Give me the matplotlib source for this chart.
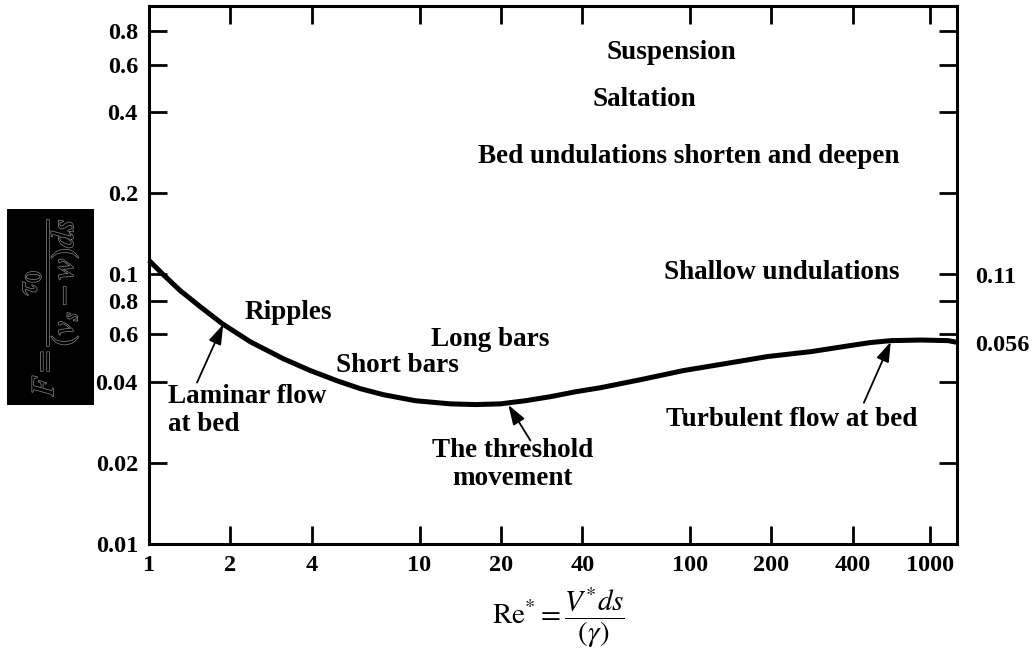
"""Shields-type diagram: bed forms against particle Reynolds number."""

import matplotlib

matplotlib.use("Agg")
import matplotlib.pyplot as plt
import matplotlib.patheffects as pe
from matplotlib.patches import Rectangle
from matplotlib.ticker import NullLocator

# threshold curve read along Re*
re_star = [1.0, 1.127, 1.302, 1.544, 1.863, 2.365, 3.133, 3.944, 4.963,
           6.036, 7.345, 9.649, 13.0, 16.09, 19.91, 24.64, 30.49, 37.73,
           46.68, 65.66, 94.7, 135.5, 193.8, 279.5, 393.0, 466.0, 552.7,
           713.6, 898.3, 970]
shields = [0.1127, 0.1, 0.0872, 0.0760, 0.0657, 0.0563, 0.0487, 0.0440,
           0.0403, 0.0377, 0.0358, 0.0340, 0.0331, 0.0329, 0.0331, 0.0340,
           0.0352, 0.0367, 0.0380, 0.0407, 0.0440, 0.0467, 0.0496, 0.0517,
           0.0545, 0.0559, 0.0568, 0.0571, 0.0568, 0.056]

x_ticks = [1, 2, 4, 10, 20, 40, 100, 200, 400, 771]
x_ticklabels = ["1", "2", "4", "10", "20", "40", "100", "200", "400", "1000"]
y_ticks = [0.01, 0.02, 0.04, 0.06, 0.08, 0.1, 0.2, 0.4, 0.6, 0.8]
y_ticklabels = ["0.01", "0.02", "0.04", "0.6", "0.8", "0.1", "0.2", "0.4", "0.6", "0.8"]

# regime names: (text, x, y, horizontal alignment)
regimes = [
    ("Suspension", 85.5, 0.668, "center"),
    ("Saltation", 67.9, 0.444, "center"),
    ("Bed undulations shorten and deepen", 98.8, 0.2747, "center"),
    ("Shallow undulations", 218, 0.1017, "center"),
    ("Ripples", 3.27, 0.0722, "center"),
    ("Short bars", 8.28, 0.0459, "center"),
    ("Long bars", 18.3, 0.0573, "center"),
]

# arrowed notes: (text, text x, text y, alignment, tail, head)
notes = [
    ("Laminar flow\nat bed", 1.176, 0.0312, "left", (1.505, 0.0397), (1.88, 0.0652)),
    ("The threshold\nmovement", 22.0, 0.0197, "center", (25.7, 0.0242), (21.3, 0.0328)),
    ("Turbulent flow at bed", 238, 0.0289, "center", (439, 0.0334), (552, 0.0562)),
]

right_labels = [("0.11", 0.1), ("0.056", shields[-1])]

plt.rcParams["font.family"] = ["Liberation Serif", "DejaVu Serif"]
plt.rcParams["mathtext.fontset"] = "stix"

W, H = 1036, 658
fig = plt.figure(figsize=(W / 100, H / 100), dpi=100)
ax = fig.add_axes([149 / W, 1 - 544 / H, (957 - 149) / W, (544 - 6) / H])

ax.plot(re_star, shields, color="black", lw=3.6, solid_joinstyle="round",
        solid_capstyle="butt", clip_on=False)

ax.set_xscale("log")
ax.set_yscale("log")
ax.set_xlim(1, 970)
ax.set_ylim(0.01, 0.99)

ax.set_xticks(x_ticks)
ax.set_xticklabels(x_ticklabels)
ax.set_yticks(y_ticks)
ax.set_yticklabels(y_ticklabels)
ax.xaxis.set_minor_locator(NullLocator())
ax.yaxis.set_minor_locator(NullLocator())
ax.tick_params(which="major", direction="in", length=13, width=2,
               labelsize=17.5, top=True, right=True)
ax.tick_params(axis="x", pad=8)
ax.tick_params(axis="y", pad=8)
for lab in ax.get_xticklabels() + ax.get_yticklabels():
    lab.set_fontweight("bold")
for sp in ax.spines.values():
    sp.set_linewidth(2.2)

for text, x, y, ha in regimes:
    ax.text(x, y, text, ha=ha, va="center", fontsize=19.5, fontweight="bold")

for text, x, y, ha, tail, head in notes:
    ax.text(x, y, text, ha=ha, va="center", fontsize=19.5, fontweight="bold",
            linespacing=1.15, multialignment=ha)
    ax.annotate("", xy=head, xytext=tail,
                arrowprops=dict(arrowstyle="-|>,head_length=0.6,head_width=0.2",
                                color="black", lw=1.3, mutation_scale=20,
                                shrinkA=0, shrinkB=0))

for text, y in right_labels:
    ax.annotate(text, xy=(1, y), xycoords=("axes fraction", "data"),
                xytext=(13, -2), textcoords="offset points",
                ha="left", va="center", fontsize=17.5, fontweight="bold",
                annotation_clip=False)

# y-axis quantity on a black panel
fig.add_artist(Rectangle((7 / W, 1 - 405 / H), 87 / W, 196 / H,
                         transform=fig.transFigure, facecolor="black",
                         edgecolor="none"))
fig.text(51 / W, 1 - 307 / H, r"$F=\dfrac{\tau_0}{(v_s-w)ds}$",
         rotation=90, ha="center", va="center", fontsize=23, color="black",
         path_effects=[pe.withStroke(linewidth=1.0, foreground="#8a8a8a")])

fig.text(558 / W, 1 - 618 / H, r"$\mathrm{Re}^{*}=\dfrac{V^{*}ds}{(\gamma)}$",
         ha="center", va="center", fontsize=21)

fig.savefig("out.png", dpi=100)
